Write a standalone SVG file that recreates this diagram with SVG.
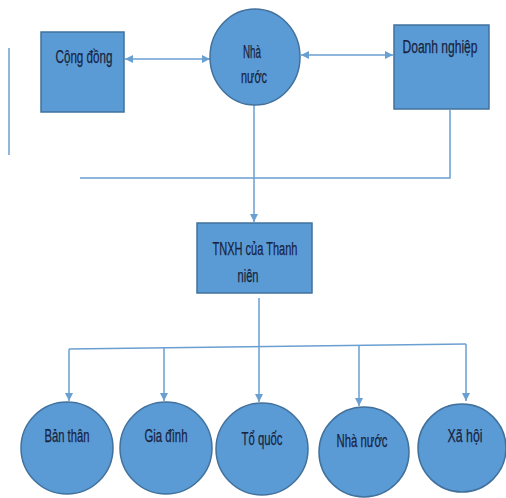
<svg xmlns="http://www.w3.org/2000/svg" width="506" height="498" viewBox="0 0 506 498">
<style>
.box{fill:#5b9bd5;stroke:#41719c;stroke-width:1.5}
.lbl{font-family:"Liberation Sans",Arial,sans-serif;font-size:17.5px;fill:#17233f;stroke:#17233f;stroke-width:0.25;text-anchor:middle}
.ln{fill:none;stroke:#6a9fd2;stroke-width:1.5}
</style>
<defs>
<marker id="ah" viewBox="0 0 10 10" refX="10" refY="5" markerWidth="8" markerHeight="8" orient="auto-start-reverse" markerUnits="userSpaceOnUse">
<path d="M0,0 L10,5 L0,10 z" fill="#6a9fd2"/>
</marker>
</defs>
<rect width="506" height="498" fill="#fff"/>
<g id="connectors">
<line class="ln" x1="9" y1="48" x2="9" y2="155"/>
<line class="ln" x1="125" y1="59" x2="210" y2="59" marker-start="url(#ah)" marker-end="url(#ah)"/>
<line class="ln" x1="301" y1="55" x2="393" y2="55" marker-start="url(#ah)" marker-end="url(#ah)"/>
<polyline class="ln" points="80,178 450,178 450,110"/>
<line class="ln" x1="254" y1="105" x2="254" y2="222" marker-end="url(#ah)"/>
<line class="ln" x1="259" y1="298" x2="259" y2="346"/>
<line class="ln" x1="69" y1="349" x2="466" y2="344"/>
<line class="ln" x1="69" y1="349" x2="69" y2="401" marker-end="url(#ah)"/>
<line class="ln" x1="164" y1="348" x2="164" y2="401" marker-end="url(#ah)"/>
<line class="ln" x1="259" y1="346" x2="259" y2="402" marker-end="url(#ah)"/>
<line class="ln" x1="359" y1="345" x2="359" y2="406" marker-end="url(#ah)"/>
<line class="ln" x1="466" y1="344" x2="466" y2="401" marker-end="url(#ah)"/>
</g>
<g id="cong-dong">
<rect class="box" x="41" y="32" width="83" height="80"/>
<text class="lbl" x="84" y="63" textLength="57" lengthAdjust="spacingAndGlyphs">Cộng đồng</text>
</g>
<g id="nha-nuoc-top">
<ellipse class="box" cx="255" cy="57" rx="45" ry="48"/>
<text class="lbl" x="252" y="58" textLength="18" lengthAdjust="spacingAndGlyphs">Nhà</text>
<text class="lbl" x="254" y="83" textLength="26" lengthAdjust="spacingAndGlyphs">nước</text>
</g>
<g id="doanh-nghiep">
<rect class="box" x="394" y="25" width="95" height="84"/>
<text class="lbl" x="440" y="53" textLength="75" lengthAdjust="spacingAndGlyphs">Doanh nghiệp</text>
</g>
<g id="tnxh">
<rect class="box" x="197" y="223" width="115" height="70"/>
<text class="lbl" x="255" y="255" textLength="85" lengthAdjust="spacingAndGlyphs">TNXH của Thanh</text>
<text class="lbl" x="248" y="282" textLength="21" lengthAdjust="spacingAndGlyphs">niên</text>
</g>
<g id="ban-than">
<circle class="box" cx="67" cy="448" r="46"/>
<text class="lbl" x="67" y="442" textLength="45" lengthAdjust="spacingAndGlyphs">Bản thân</text>
</g>
<g id="gia-dinh">
<circle class="box" cx="166" cy="448" r="46"/>
<text class="lbl" x="166" y="442" textLength="43" lengthAdjust="spacingAndGlyphs">Gia đình</text>
</g>
<g id="to-quoc">
<circle class="box" cx="262" cy="449" r="46"/>
<text class="lbl" x="262" y="445" textLength="41" lengthAdjust="spacingAndGlyphs">Tổ quốc</text>
</g>
<g id="nha-nuoc-bottom">
<circle class="box" cx="364" cy="452" r="45"/>
<text class="lbl" x="362" y="447" textLength="51" lengthAdjust="spacingAndGlyphs">Nhà nước</text>
</g>
<g id="xa-hoi">
<circle class="box" cx="462" cy="448" r="44"/>
<text class="lbl" x="465" y="442" textLength="35" lengthAdjust="spacingAndGlyphs">Xã hội</text>
</g>
</svg>
